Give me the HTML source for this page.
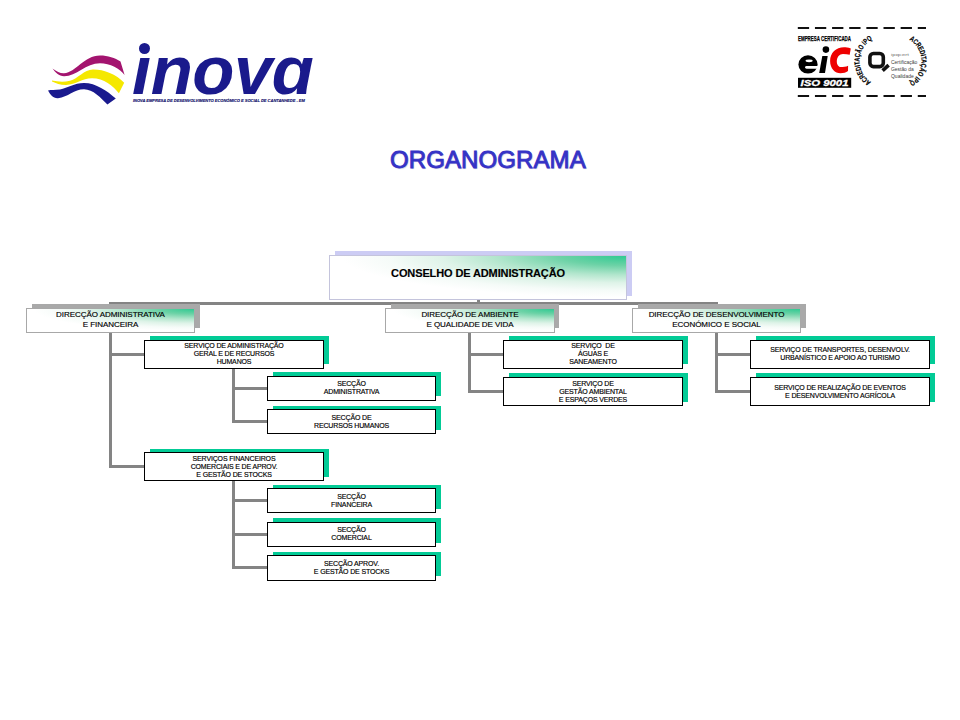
<!DOCTYPE html>
<html><head><meta charset="utf-8">
<style>
html,body{margin:0;padding:0;background:#fff;}
body{width:960px;height:720px;position:relative;overflow:hidden;font-family:"Liberation Sans",sans-serif;}
.a{position:absolute;}
.l{position:absolute;background:#848484;}
.sh{position:absolute;}
.shg{background:#a9a9a9;}
.sht{background:#02cb96;}
.bx{position:absolute;box-sizing:border-box;}
.gb{border:1px solid #a8a8a8;background:radial-gradient(farthest-side at 100% 0%,#2fca92 0%,#6cd2a6 22%,#b2e6cd 44%,#def3e8 62%,#f5fbf8 80%,#fff 96%);}
.wb{border:1px solid #000;background:#fff;}
.t{position:absolute;left:0;right:0;text-align:center;white-space:nowrap;color:#000;-webkit-text-stroke:0.15px #000;}
.t span{display:inline-block;}
.d{font-size:8px;line-height:10px;letter-spacing:-0.05px;}
.s{font-size:7px;line-height:8px;letter-spacing:-0.15px;}
</style></head><body>

<!-- INOVA logo -->
<svg class="a" style="left:0;top:0" width="330" height="120" viewBox="0 0 330 120">
  <path d="M52.5,68.5 C57,71.5 60,73.5 64,73.3 C76,72.5 84,55.5 100,55.5 C108,55.5 115,58 120.5,61.5 L124.6,75 C120,69 110,63.3 100,63.3 C86,63.3 76,76.5 64,76.3 C59,76.2 55,72 52.5,68.5 Z" fill="#a3146f"/>
  <path d="M52,80.6 C58,81.8 64,82.2 70,80.8 C78,78.5 84,69.5 93,69.4 C104,69.3 116,74 124.2,82.7 L118.9,93.3 C113,86 104,78.3 92,78.3 C82,78.3 76,84.8 66,85 C60,85 56,83 52,81.4 Z" fill="#f5e800"/>
  <path d="M48,90.5 C51,89.8 55,90 60,89.5 C68,88 74,83.1 84,83.1 C96,83.1 107,91 115.8,98.6 L107.4,104.4 C101,98 93,89.2 84,89.2 C74,89.2 68,97 58,98.2 C53,98.5 50,94 48,90.5 Z" fill="#1a1a8e"/>
</svg>
<div id="inova" class="a" style="left:132px;top:36px;font-size:69px;font-weight:bold;font-style:italic;color:#1a1a8c;letter-spacing:-0.5px;line-height:69px;">ınovɑ</div>
<div class="a" style="left:139px;top:43px;width:11px;height:11px;border-radius:50%;background:#1a1a8c;"></div>
<div class="a" style="left:133px;top:98px;font-size:4px;font-weight:bold;font-style:italic;color:#14146e;-webkit-text-stroke:0.15px #14146e;white-space:nowrap;line-height:6px;letter-spacing:0px;">INOVA EMPRESA DE DESENVOLVIMENTO ECONÓMICO E SOCIAL DE CANTANHEDE - EM</div>

<!-- ISO logo -->
<svg class="a" style="left:780px;top:15px" width="160" height="95" viewBox="780 15 160 95">
<rect x="797.80" y="27" width="11.3" height="2" fill="#111"/><rect x="797.80" y="95" width="11.3" height="2" fill="#111"/><rect x="814.94" y="27" width="11.3" height="2" fill="#111"/><rect x="814.94" y="95" width="11.3" height="2" fill="#111"/><rect x="832.08" y="27" width="11.3" height="2" fill="#111"/><rect x="832.08" y="95" width="11.3" height="2" fill="#111"/><rect x="849.22" y="27" width="11.3" height="2" fill="#111"/><rect x="849.22" y="95" width="11.3" height="2" fill="#111"/><rect x="866.36" y="27" width="11.3" height="2" fill="#111"/><rect x="866.36" y="95" width="11.3" height="2" fill="#111"/><rect x="883.50" y="27" width="11.3" height="2" fill="#111"/><rect x="883.50" y="95" width="11.3" height="2" fill="#111"/><rect x="900.64" y="27" width="11.3" height="2" fill="#111"/><rect x="900.64" y="95" width="11.3" height="2" fill="#111"/><rect x="917.78" y="27" width="8.2" height="2" fill="#111"/><rect x="917.78" y="95" width="8.2" height="2" fill="#111"/>
<text x="798" y="40.6" font-family="Liberation Sans" font-weight="bold" font-size="7.6" textLength="53" lengthAdjust="spacingAndGlyphs" fill="#000" stroke="#000" stroke-width="0.25">EMPRESA CERTIFICADA</text>
<ellipse cx="808" cy="64.4" rx="9.6" ry="9.2" fill="#000"/><ellipse cx="809.1" cy="60.8" rx="3.6" ry="1.4" fill="#fff"/><path d="M806.5,65.9 L819,65.9 L819,68.7 L806.5,68.7 A1.4,1.4 0 0 1 806.5,65.9 Z" fill="#fff"/>
<circle cx="825.9" cy="49.6" r="3.3" fill="#000"/>
<path d="M822.3,56 L827.7,56 L825,72.9 L819.2,72.9 Z" fill="#000"/>
<path d="M850.8,48.4 C848,47.5 846,47.3 844,47.3 C836,47.3 830.1,53 830.1,61 C830.1,68.5 835,73.3 840.5,73.3 C843.5,73.3 846,72.6 848,71.1 L848.1,65.8 C846,66.8 843,67.1 841,67.1 C838.5,67.1 836.8,64.5 836.8,61.5 C836.8,57 839.5,54 843,54 C845.5,54 847.8,54.3 849.7,54.7 Z" fill="#ee0000"/>
<rect x="798" y="77.8" width="53.2" height="10" fill="#000"/>
<text x="800.5" y="86.3" font-family="Liberation Sans" font-weight="bold" font-style="italic" font-size="9.2" textLength="48" lengthAdjust="spacingAndGlyphs" fill="#fff" stroke="#fff" stroke-width="0.3">ISO 9001</text>
<path id="arcL" d="M871.0,81.8 A24.5,24.5 0 0 1 871.75,39.8" fill="none"/>
<path id="arcR" d="M909.25,39.78 A24.5,24.5 0 0 1 909.6,82.0" fill="none"/>
<text font-family="Liberation Sans" font-weight="bold" font-size="7.4" fill="#000" stroke="#000" stroke-width="0.2"><textPath href="#arcL" textLength="51" lengthAdjust="spacingAndGlyphs">ACREDITAÇÃO IPQ</textPath></text>
<text font-family="Liberation Sans" font-weight="bold" font-size="7.4" fill="#000" stroke="#000" stroke-width="0.2"><textPath href="#arcR" textLength="51" lengthAdjust="spacingAndGlyphs">ACREDITAÇÃO IPQ</textPath></text>
<rect x="869.9" y="53.5" width="13.4" height="13.1" rx="3.5" fill="none" stroke="#111" stroke-width="3.6"/>
<path d="M882.6,70.6 L888.6,65.2" stroke="#111" stroke-width="3.6"/>
<text x="891" y="55.5" font-family="Liberation Sans" font-size="4.2" textLength="18" lengthAdjust="spacingAndGlyphs" fill="#777">ipqcert</text>
<text x="891" y="64.3" font-family="Liberation Sans" font-size="5.8" textLength="26.3" lengthAdjust="spacingAndGlyphs" fill="#3c3c3c">Certificação</text>
<text x="891" y="71.2" font-family="Liberation Sans" font-size="5.8" textLength="22.7" lengthAdjust="spacingAndGlyphs" fill="#3c3c3c">Gestão da</text>
<text x="891" y="78.3" font-family="Liberation Sans" font-size="5.8" textLength="22.7" lengthAdjust="spacingAndGlyphs" fill="#3c3c3c">Qualidade</text>
</svg>

<!-- Title -->
<div class="a" style="left:390px;top:146px;font-size:24px;font-weight:normal;color:#3532c6;-webkit-text-stroke:0.9px #3532c6;line-height:28px;letter-spacing:0.1px;text-shadow:1px 1px 1px #c8c8e0;white-space:nowrap;">ORGANOGRAMA</div>

<!-- connector lines -->
<div class="l" style="left:477px;top:299px;width:3px;height:4px;"></div>
<div class="l" style="left:109px;top:302px;width:609px;height:3px;"></div>
<div class="l" style="left:109px;top:302px;width:3px;height:166px;"></div>
<div class="l" style="left:109px;top:353px;width:35px;height:3px;"></div>
<div class="l" style="left:109px;top:465px;width:35px;height:3px;"></div>
<div class="l" style="left:232px;top:368px;width:3px;height:55px;"></div>
<div class="l" style="left:232px;top:387px;width:35px;height:3px;"></div>
<div class="l" style="left:232px;top:420px;width:35px;height:3px;"></div>
<div class="l" style="left:232px;top:480px;width:3px;height:89px;"></div>
<div class="l" style="left:232px;top:499px;width:35px;height:3px;"></div>
<div class="l" style="left:232px;top:533px;width:35px;height:3px;"></div>
<div class="l" style="left:232px;top:566px;width:35px;height:3px;"></div>
<div class="l" style="left:468px;top:302px;width:3px;height:91px;"></div>
<div class="l" style="left:468px;top:353px;width:35px;height:3px;"></div>
<div class="l" style="left:468px;top:390px;width:35px;height:3px;"></div>
<div class="l" style="left:715px;top:302px;width:3px;height:91px;"></div>
<div class="l" style="left:715px;top:353px;width:35px;height:3px;"></div>
<div class="l" style="left:715px;top:390px;width:35px;height:3px;"></div>

<!-- Top box -->
<div class="sh" style="left:335px;top:251px;width:297px;height:45px;background:#ccccf4;"></div>
<div class="bx gb" style="left:329px;top:255px;width:298px;height:45px;border-color:#c4c4dc;">
  <div class="t" style="top:11px;font-size:11px;line-height:13px;font-weight:bold;letter-spacing:-0.12px;"><span>CONSELHO DE ADMINISTRAÇÃO</span></div>
</div>

<!-- Directors -->
<div class="sh shg" style="left:32px;top:304px;width:168px;height:24px;"></div>
<div class="bx gb" style="left:26px;top:308px;width:169px;height:25px;">
  <div class="t d" style="top:1px;"><span>DIRECÇÃO ADMINISTRATIVA</span><br><span>E FINANCEIRA</span></div>
</div>
<div class="sh shg" style="left:391px;top:304px;width:168px;height:24px;"></div>
<div class="bx gb" style="left:385px;top:308px;width:170px;height:25px;">
  <div class="t d" style="top:1px;"><span>DIRECÇÃO DE AMBIENTE</span><br><span>E QUALIDADE DE VIDA</span></div>
</div>
<div class="sh shg" style="left:638px;top:304px;width:168px;height:24px;"></div>
<div class="bx gb" style="left:632px;top:308px;width:169px;height:25px;">
  <div class="t d" style="top:1px;"><span>DIRECÇÃO DE DESENVOLVIMENTO</span><br><span>ECONÓMICO E SOCIAL</span></div>
</div>

<!-- Services col 1 -->
<div class="sh sht" style="left:150px;top:336px;width:179px;height:28px;"></div>
<div class="bx wb" style="left:144px;top:340px;width:180px;height:29px;">
  <div class="t s" style="top:1px;"><span>SERVIÇO DE ADMINISTRAÇÃO</span><br><span>GERAL E DE RECURSOS</span><br><span>HUMANOS</span></div>
</div>
<div class="sh sht" style="left:273px;top:372px;width:168px;height:24px;"></div>
<div class="bx wb" style="left:267px;top:376px;width:169px;height:25px;">
  <div class="t s" style="top:3px;"><span>SECÇÃO</span><br><span>ADMINISTRATIVA</span></div>
</div>
<div class="sh sht" style="left:273px;top:406px;width:168px;height:24px;"></div>
<div class="bx wb" style="left:267px;top:409px;width:169px;height:25px;">
  <div class="t s" style="top:4px;"><span>SECÇÃO DE</span><br><span>RECURSOS HUMANOS</span></div>
</div>
<div class="sh sht" style="left:150px;top:449px;width:179px;height:28px;"></div>
<div class="bx wb" style="left:144px;top:452px;width:180px;height:29px;">
  <div class="t s" style="top:2px;"><span>SERVIÇOS FINANCEIROS</span><br><span>COMERCIAIS E DE APROV.</span><br><span>E GESTÃO DE STOCKS</span></div>
</div>
<div class="sh sht" style="left:273px;top:485px;width:168px;height:24px;"></div>
<div class="bx wb" style="left:267px;top:488px;width:169px;height:25px;">
  <div class="t s" style="top:4px;"><span>SECÇÃO</span><br><span>FINANCEIRA</span></div>
</div>
<div class="sh sht" style="left:273px;top:518px;width:168px;height:25px;"></div>
<div class="bx wb" style="left:267px;top:522px;width:169px;height:25px;">
  <div class="t s" style="top:3px;"><span>SECÇÃO</span><br><span>COMERCIAL</span></div>
</div>
<div class="sh sht" style="left:273px;top:552px;width:168px;height:24px;"></div>
<div class="bx wb" style="left:267px;top:555px;width:169px;height:26px;">
  <div class="t s" style="top:4px;"><span>SECÇÃO APROV.</span><br><span>E GESTÃO DE STOCKS</span></div>
</div>

<!-- Services col 2 -->
<div class="sh sht" style="left:509px;top:336px;width:179px;height:28px;"></div>
<div class="bx wb" style="left:503px;top:340px;width:180px;height:29px;">
  <div class="t s" style="top:1px;"><span>SERVIÇO&nbsp; DE</span><br><span>ÁGUAS E</span><br><span>SANEAMENTO</span></div>
</div>
<div class="sh sht" style="left:509px;top:373px;width:179px;height:29px;"></div>
<div class="bx wb" style="left:503px;top:377px;width:180px;height:29px;">
  <div class="t s" style="top:2px;"><span>SERVIÇO DE</span><br><span>GESTÃO AMBIENTAL</span><br><span>E ESPAÇOS VERDES</span></div>
</div>

<!-- Services col 3 -->
<div class="sh sht" style="left:756px;top:336px;width:179px;height:28px;"></div>
<div class="bx wb" style="left:750px;top:340px;width:180px;height:29px;">
  <div class="t s" style="top:5px;"><span>SERVIÇO DE TRANSPORTES, DESENVOLV.</span><br><span>URBANÍSTICO E APOIO AO TURISMO</span></div>
</div>
<div class="sh sht" style="left:756px;top:373px;width:179px;height:29px;"></div>
<div class="bx wb" style="left:750px;top:377px;width:180px;height:29px;">
  <div class="t s" style="top:6px;"><span>SERVIÇO DE REALIZAÇÃO DE EVENTOS</span><br><span>E DESENVOLVIMENTO AGRÍCOLA</span></div>
</div>

</body></html>
